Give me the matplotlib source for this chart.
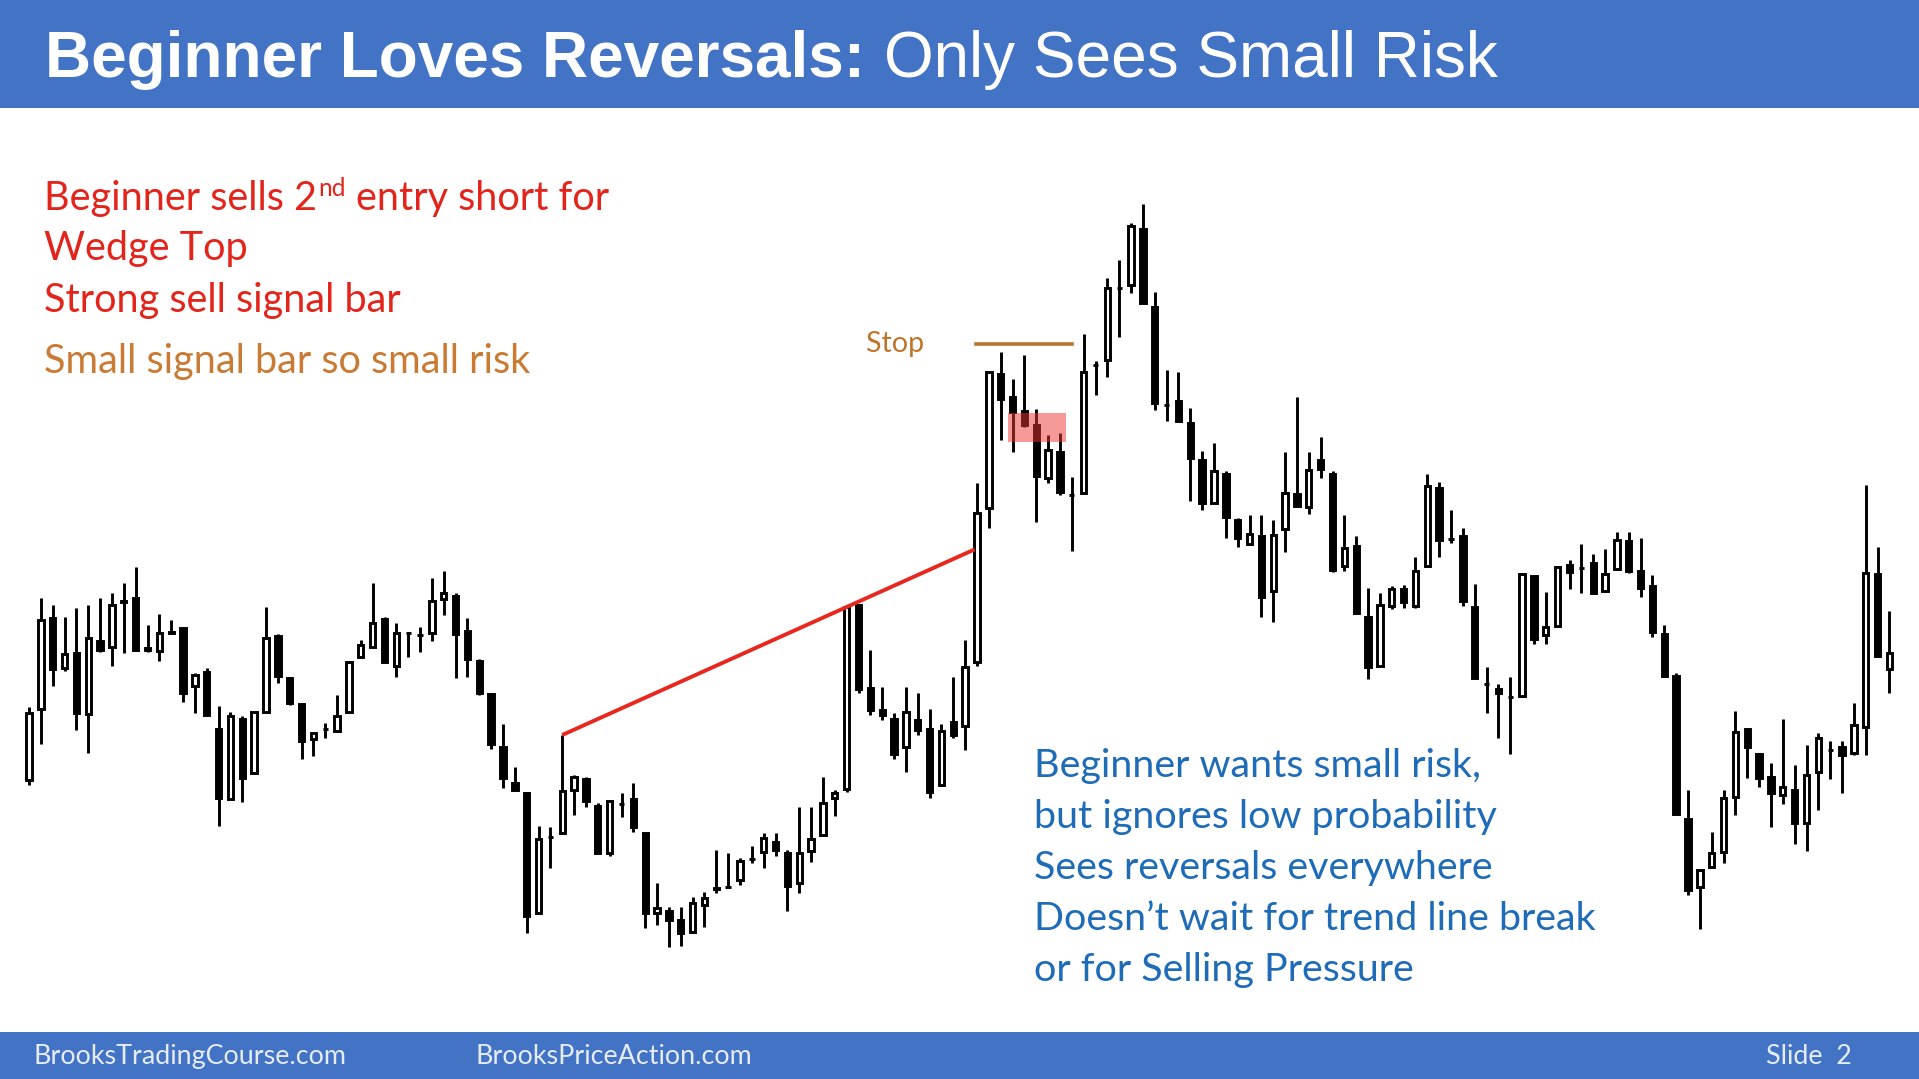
import numpy as np
import matplotlib.pyplot as plt
from matplotlib.patches import Rectangle

# OHLC (price units, higher = up), one entry per bar
opens = [220, 291, 382, 332, 347, 286, 359, 353, 399, 402, 352, 349, 368, 372, 314, 328,
         271, 201, 281, 227, 288, 364, 322, 296, 261, 271, 269, 288, 343, 353, 381, 334,
         367, 365, 367, 401, 404, 369, 339, 306, 253, 217, 207, 87, 163, 167, 210, 221,
         194, 147, 196, 201, 167, 87, 89, 80, 68, 95, 111, 113, 120, 141, 148, 158,
         147, 117, 149, 165, 202, 211, 395, 312, 290, 281, 253, 280, 271, 215, 278, 274,
         338, 492, 626, 603, 589, 575, 522, 548, 505, 507, 635, 640, 712, 715, 771, 693,
         595, 599, 577, 540, 497, 526, 480, 456, 464, 409, 471, 506, 493, 540, 526, 434,
         454, 383, 334, 394, 411, 394, 434, 512, 461, 464, 393, 316, 311, 303, 304, 424,
         365, 374, 435, 432, 437, 409, 431, 459, 429, 414, 366, 324, 181, 113, 133, 148,
         203, 271, 246, 223, 205, 210, 177, 228, 250, 253, 247, 273, 426, 331]
highs = [293, 402, 395, 383, 392, 395, 402, 407, 417, 433, 375, 386, 380, 373, 327, 332,
         294, 288, 284, 288, 393, 366, 323, 297, 267, 277, 305, 338, 360, 417, 383, 377,
         368, 373, 422, 429, 407, 382, 341, 307, 276, 233, 208, 174, 173, 265, 225, 223,
         197, 199, 207, 217, 167, 117, 93, 93, 103, 108, 150, 147, 142, 154, 167, 167,
         150, 193, 193, 223, 210, 393, 395, 350, 313, 287, 313, 307, 291, 276, 323, 360,
         517, 628, 648, 621, 645, 591, 565, 567, 523, 666, 639, 722, 740, 777, 796, 708,
         630, 628, 592, 549, 557, 529, 482, 485, 485, 480, 548, 603, 548, 563, 529, 485,
         464, 412, 407, 414, 415, 443, 526, 518, 490, 472, 416, 333, 316, 323, 426, 425,
         408, 434, 440, 456, 446, 451, 468, 468, 462, 425, 375, 327, 210, 131, 168, 210,
         289, 272, 247, 237, 281, 235, 255, 267, 259, 259, 297, 515, 453, 389]
lows = [215, 256, 314, 329, 270, 247, 348, 334, 347, 349, 348, 339, 366, 298, 287, 285,
        174, 201, 198, 227, 288, 317, 295, 241, 244, 262, 269, 288, 343, 353, 338, 323,
        343, 348, 359, 385, 322, 323, 305, 251, 212, 210, 67, 87, 132, 167, 185, 193,
        147, 144, 183, 168, 72, 75, 53, 54, 68, 73, 107, 112, 115, 137, 132, 144,
        89, 107, 138, 165, 184, 208, 307, 285, 280, 241, 228, 265, 202, 215, 262, 250,
        334, 472, 560, 548, 573, 478, 517, 505, 449, 507, 605, 623, 663, 707, 697, 590,
        579, 579, 499, 490, 497, 462, 453, 456, 383, 378, 448, 493, 486, 522, 428, 429,
        387, 321, 334, 391, 392, 392, 434, 443, 457, 394, 322, 287, 262, 246, 303, 356,
        356, 374, 411, 407, 407, 408, 431, 427, 403, 363, 324, 186, 105, 71, 133, 137,
        185, 222, 213, 173, 196, 156, 149, 190, 221, 207, 245, 245, 344, 307]
closes = [287, 380, 331, 346, 287, 362, 350, 395, 398, 350, 350, 367, 367, 307, 325, 285,
          202, 284, 222, 288, 362, 324, 297, 259, 267, 271, 284, 338, 355, 377, 338, 367,
          367, 365, 399, 407, 366, 341, 307, 256, 222, 210, 84, 161, 163, 209, 223, 199,
          147, 199, 196, 173, 87, 92, 80, 67, 97, 102, 112, 113, 139, 141, 162, 150,
          114, 147, 161, 197, 207, 393, 311, 290, 285, 246, 288, 270, 208, 269, 265, 333,
          487, 628, 601, 588, 575, 524, 550, 508, 505, 628, 635, 712, 712, 774, 697, 597,
          595, 579, 542, 497, 529, 483, 462, 466, 403, 465, 507, 494, 530, 531, 430, 452,
          387, 333, 395, 411, 398, 429, 514, 460, 461, 399, 322, 316, 307, 303, 426, 361,
          373, 433, 428, 432, 407, 426, 460, 429, 412, 368, 324, 186, 110, 130, 147, 202,
          268, 253, 222, 207, 213, 177, 225, 262, 250, 245, 275, 427, 344, 347]

# annotations in chart units (bar index / price)
trend_from, trend_via, trend_to = 45, 69, 79.8
stop_price, stop_from, stop_to = 656, 79.9, 88.0
signal_box = (82.6, 87.5, 558, 587)

W, H = 1919, 1079
BLUE = '#4273C5'
RED = '#E3241B'
ORANGE = '#C97A33'
TEXT_BLUE = '#1E6BB8'

fig = plt.figure(figsize=(W / 100, H / 100), dpi=100)
slide = fig.add_axes([0, 0, 1, 1])
slide.set_xlim(0, W)
slide.set_ylim(H, 0)
slide.axis('off')
slide.add_patch(Rectangle((0, 0), W, 108, color=BLUE, lw=0))
slide.add_patch(Rectangle((0, 1032), W, H - 1032, color=BLUE, lw=0))

# chart axes, bar spacing chosen to match slide
ax = fig.add_axes([0, 0, 1, 1])
ax.patch.set_alpha(0)
ax.axis('off')
step, x0 = 11.85, 29
ax.set_xlim(-x0 / step, (W - x0) / step)
ax.set_ylim(-79, 1000)

idx = np.arange(len(opens))
bw = 0.45
lw = 2.1
ax.vlines(idx, lows, highs, color='black', lw=lw, zorder=2)
for i in idx:
    o, c = opens[i], closes[i]
    face = 'white' if c > o else 'black'
    ax.add_patch(Rectangle((i - bw / 2, min(o, c)), bw, abs(c - o),
                           facecolor=face, edgecolor='black', lw=lw, zorder=3))

# wedge trend line through two highs
slope = (highs[trend_via] - highs[trend_from]) / (trend_via - trend_from)
ax.plot([trend_from, trend_to],
        [highs[trend_from], highs[trend_from] + slope * (trend_to - trend_from)],
        color='#E8281E', lw=2.8, zorder=4, solid_capstyle='butt')

ax.plot([stop_from, stop_to], [stop_price, stop_price], color='#B8732E', lw=2.6, zorder=4)
bx0, bx1, by0, by1 = signal_box
ax.add_patch(Rectangle((bx0, by0), bx1 - bx0, by1 - by0, color='#EE3535', alpha=0.5,
                       lw=0, zorder=5))

renderer = fig.canvas.get_renderer()


def text_width(s, size, family, weight='normal'):
    t = slide.text(0, 0, s, fontsize=size, family=family, weight=weight)
    w = t.get_window_extent(renderer).width
    t.remove()
    return w


def fit(s, width, family, weight='normal'):
    return 30 * width / text_width(s, 30, family, weight)


# title
ARIAL = 'Liberation Sans'
t1 = 'Beginner Loves Reversals:'
t2 = 'Only Sees Small Risk'
ts = (fit(t1, 821, ARIAL, 'bold') + fit(t2, 613, ARIAL)) / 2
slide.text(45, 77, t1, fontsize=ts, family=ARIAL, weight='bold', color='white', va='baseline')
slide.text(884, 77, t2, fontsize=ts, family=ARIAL, color='white', va='baseline')

BODY = 'Lato'
fs = fit('Small signal bar so small risk', 487, BODY)
sp = text_width('a a', fs, BODY) - text_width('aa', fs, BODY)
p1 = 'Beginner sells 2'
w1 = text_width(p1, fs, BODY)
slide.text(44, 210, p1, fontsize=fs, family=BODY, color=RED, va='baseline')
slide.text(44 + w1 + 1, 196, 'nd', fontsize=fs * 0.62, family=BODY, color=RED, va='baseline')
wsup = text_width('nd', fs * 0.62, BODY)
slide.text(44 + w1 + wsup + sp + 1, 210, 'entry short for', fontsize=fs, family=BODY,
           color=RED, va='baseline')
slide.text(44, 260, 'Wedge Top', fontsize=fs, family=BODY, color=RED, va='baseline')
slide.text(44, 312, 'Strong sell signal bar', fontsize=fs, family=BODY, color=RED, va='baseline')
slide.text(44, 373, 'Small signal bar so small risk', fontsize=fs, family=BODY, color=ORANGE,
           va='baseline')

ss = fit('Stop', 58, BODY)
slide.text(866, 352, 'Stop', fontsize=ss, family=BODY, color='#C07428', va='baseline')

blue_lines = ['Beginner wants small risk,', 'but ignores low probability',
              'Sees reversals everywhere', 'Doesn\u2019t wait for trend line break',
              'or for Selling Pressure']
bs = fit(blue_lines[3], 562, BODY)
for k, line in enumerate(blue_lines):
    slide.text(1034, 777 + k * 51, line, fontsize=bs, family=BODY, color=TEXT_BLUE,
               va='baseline')

# footer
FOOT = '#E6ECF6'
fts = fit('BrooksTradingCourse.com', 312, BODY)
slide.text(34, 1064, 'BrooksTradingCourse.com', fontsize=fts, family=BODY, color=FOOT, va='baseline')
slide.text(475, 1064, 'BrooksPriceAction.com', fontsize=fts, family=BODY, color=FOOT, va='baseline')
slide.text(1766, 1064, 'Slide  2', fontsize=fts, family=BODY, color=FOOT, va='baseline')

fig.savefig('out.png', dpi=100)
